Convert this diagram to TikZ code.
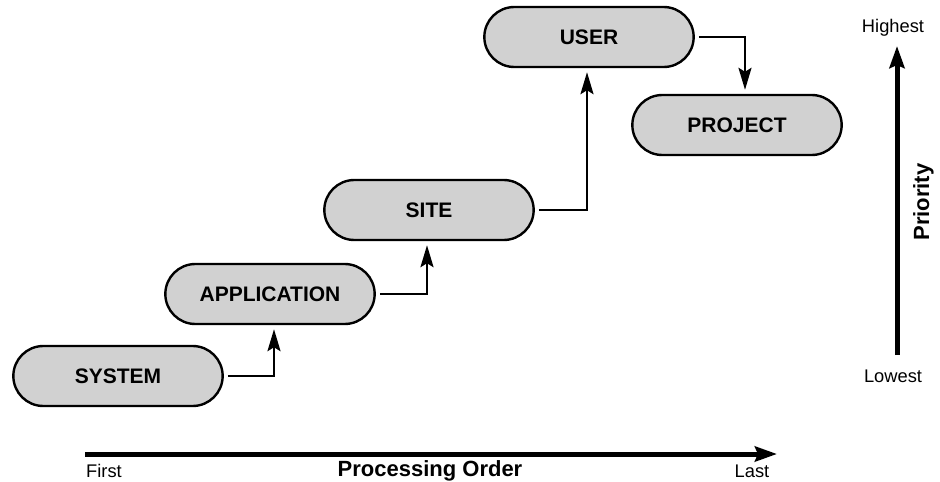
\documentclass[tikz,border=0pt]{standalone}
\usepackage{fontspec}
\setmainfont{Liberation Sans}
\usetikzlibrary{shapes.misc, arrows.meta, positioning, calc}

\tikzset{
	layer/.style={rounded rectangle, draw, line width=2.4pt, fill=black!18, minimum width=216pt, minimum height=60pt, font=\fontsize{21}{25}\selectfont\bfseries},
	conn/.style={line width=2.4pt, -{Stealth[length=22pt, width=13pt, inset=4pt]}, shorten <=4pt, shorten >=4pt},
	axis/.style={line width=5pt, -{Stealth[length=22pt, width=15pt, inset=3pt]}},
	small/.style={anchor=base, inner sep=0pt, font=\fontsize{18.3}{22}\selectfont},
	axlabel/.style={anchor=base, inner sep=0pt, font=\fontsize{22}{26}\selectfont\bfseries}
}

\begin{document}
\begin{tikzpicture}[x=1pt, y=-1pt]
	\useasboundingbox (0,0) rectangle (940,482);
	\node[layer] (sys) at (118,376) {SYSTEM};
	\node[layer] (app) at (270,294) {APPLICATION};
	\node[layer] (site) at (429,210) {SITE};
	\node[layer] (user) at (589,37) {USER};
	\node[layer] (prj) at (737,125) {PROJECT};
	\draw[conn] (sys.east) -| ([xshift=4pt]app.south);
	\draw[conn] (app.east) -| ([xshift=-2pt]site.south);
	\draw[conn] (site.east) -| ([xshift=-2pt]user.south);
	\draw[conn] (user.east) -| ([xshift=8pt]prj.north);
	\coordinate (ordS) at (85,454);
	\coordinate (ordE) at (777,454);
	\draw[axis] (ordS) -- (ordE);
	\node[small] (first) at (104,477) {First};
	\node[axlabel] (order) at (430,476.5) {Processing Order};
	\node[small] (last) at (752,477) {Last};
	\coordinate (priS) at (897,355);
	\coordinate (priE) at (897,46);
	\draw[axis] (priS) -- (priE);
	\node[small] (high) at (893,32) {Highest};
	\node[small] (low) at (893,382) {Lowest};
	\node[axlabel, rotate=90] (prio) at (929,202) {Priority};
\end{tikzpicture}
\end{document}
